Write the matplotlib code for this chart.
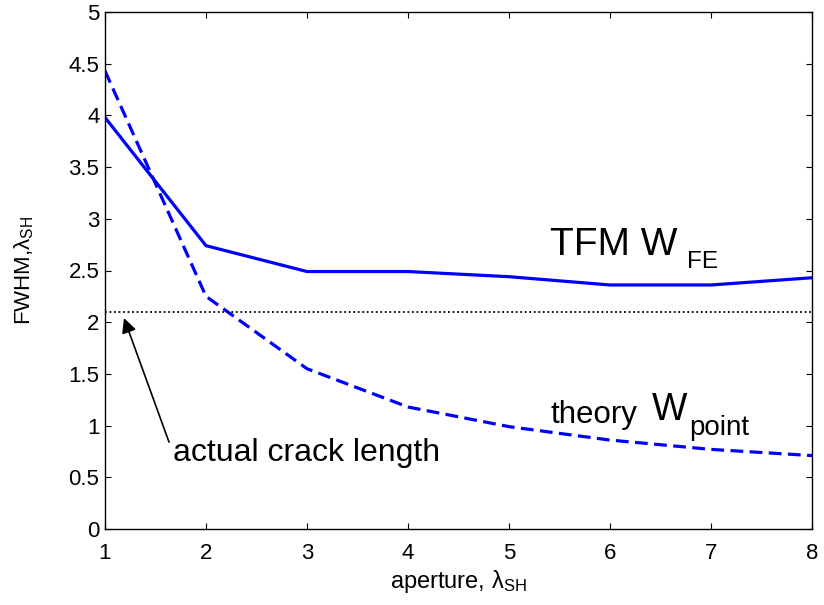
import numpy as np
import matplotlib
matplotlib.use("Agg")
import matplotlib.pyplot as plt
from matplotlib.ticker import FuncFormatter

# FWHM of the crack image versus array aperture (both in shear wavelengths)
aperture = [1, 2, 3, 4, 5, 6, 7, 8]
tfm_fwhm = [3.98, 2.74, 2.49, 2.49, 2.44, 2.36, 2.36, 2.43]
theory_fwhm = [4.43, 2.25, 1.55, 1.18, 0.99, 0.86, 0.77, 0.71]
crack_length = 2.1

plt.rcParams['font.family'] = ['Liberation Sans', 'DejaVu Sans']
plt.rcParams['mathtext.fontset'] = 'custom'
plt.rcParams['mathtext.rm'] = 'Liberation Sans'
plt.rcParams['mathtext.it'] = 'Liberation Sans:italic'


def tick_fmt(v, pos):
    return ('%g' % v)


fig = plt.figure(figsize=(8.24, 6.05), dpi=100)
ax = fig.add_axes([105 / 824, 76 / 605, 707 / 824, 517 / 605])

ax.plot(aperture, tfm_fwhm, color='#0000ff', lw=2.3, solid_joinstyle='miter')
ax.plot(aperture, theory_fwhm, color='#0000ff', lw=2.3, dashes=(4, 2))
ax.axhline(crack_length, color='k', lw=1.3, linestyle=(0, (1, 1.5)))

ax.set_xlim(1, 8)
ax.set_ylim(0, 5)
ax.set_xticks(aperture)
ax.set_yticks(np.arange(0, 5.01, 0.5))
ax.yaxis.set_major_formatter(FuncFormatter(tick_fmt))
ax.tick_params(direction='in', top=True, right=True, length=4.5, width=0.8,
               labelsize=16)
ax.tick_params(axis='x', pad=10)
ax.tick_params(axis='y', pad=4)
for s in ax.spines.values():
    s.set_linewidth(1.0)

ax.set_xlabel(r'aperture, λ$_{\mathrm{SH}}$', fontsize=17, labelpad=3)
ax.set_ylabel(r'FWHM,λ$_{\mathrm{SH}}$', fontsize=16, labelpad=23)

# curve labels
ax.text(5.406, 2.65, 'TFM W', fontsize=28, ha='left', va='baseline')
ax.text(6.76, 2.52, 'FE', fontsize=17.5, ha='left', va='baseline')
ax.text(5.406, 1.022, 'theory', fontsize=22.5, ha='left', va='baseline')
ax.text(6.41, 1.054, 'W', fontsize=27, ha='left', va='baseline')
ax.text(6.785, 0.909, 'point', fontsize=20, ha='left', va='baseline')

ax.annotate('', xy=(1.188, 2.04), xytext=(1.634, 0.84),
            arrowprops=dict(arrowstyle='-|>', color='k', lw=1.2,
                            mutation_scale=22, shrinkA=0, shrinkB=0))
ax.text(1.673, 0.66, 'actual crack length', fontsize=23, ha='left',
        va='baseline')

fig.savefig('out.png', dpi=100)
